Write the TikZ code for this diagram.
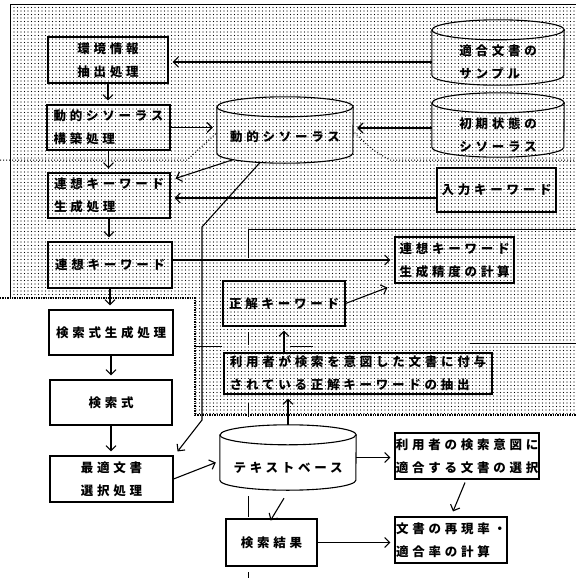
\documentclass[tikz,border=0pt]{standalone}
\usepackage{fontspec}
\newfontfamily\jpf[LetterSpace=30]{Noto Sans CJK JP}
\usetikzlibrary{arrows.meta,patterns.meta,calc}
\pgfdeclarelayer{bg}\pgfdeclarelayer{mid}\pgfsetlayers{bg,mid,main}
\tikzset{
  dotfill/.style={pattern={Dots[distance=3.5pt,radius=0.6pt]}},
  jp/.style={font=\jpf\bfseries\fontsize{12.5}{23}\selectfont},
  box/.style={jp, draw, line width=1.1pt, inner sep=0pt, align=left, fill=white},
  dotbox/.style={jp, draw, line width=1.1pt, inner sep=0pt, align=left, preaction={fill=white}, dotfill},
  cylnode/.style={inner sep=0pt},
  lab/.style={jp, align=left, inner sep=0pt, yshift=-10pt},
  arr/.style={line width=1.1pt, shorten >=4pt, -{Straight Barb[length=5pt,width=10pt,line width=1.1pt]}},
  sheet/.style={line width=0.9pt},
}
\newcommand\mycyl[3]{%
  \begin{pgfonlayer}{mid}
  \path[line width=1.1pt, draw, #3] ($(#1.north west)+(0,10)$) -- ($(#1.south west)+(0,-10)$)
     arc[start angle=180,end angle=360,x radius=#2pt,y radius=10pt]
     -- ($(#1.north east)+(0,10)$)
     arc[start angle=0,end angle=180,x radius=#2pt,y radius=10pt] -- cycle;
  \draw[line width=1.1pt] ($(#1.north west)+(0,10)$) arc[start angle=180,end angle=360,x radius=#2pt,y radius=10pt];
  \end{pgfonlayer}}
\begin{document}
\begin{tikzpicture}[x=1pt,y=-1pt]
\useasboundingbox (0,0) rectangle (576,578);
% background region and sheet lines
\begin{pgfonlayer}{bg}
\fill[white] (0,0) rectangle (576,578);
\fill[dotfill] (10,5) -- (576,5) -- (576,415) -- (195,415) -- (195,298) -- (10,298) -- cycle;
\draw[line width=1pt] (10,298) -- (10,5) -- (576,5);
\draw[densely dotted, line width=1.4pt] (0,298) -- (195,298) -- (195,415) -- (576,415);
\draw[dotted, line width=1pt] (0,160) -- (187,160) -- (222,128) -- (350,128) .. controls (372,150) .. (390,160) -- (576,160);
\draw[sheet] (248,258) -- (248,229) -- (576,229);
\draw[sheet] (248,332) -- (248,345);
\draw[sheet] (248,403) -- (248,417);
\draw[sheet] (248,496) -- (248,517);
\draw[sheet] (248,572) -- (248,578);
\draw[sheet] (195,346) -- (222,346);
\draw[sheet] (290,346) -- (313,346);
\draw[sheet] (470,343) -- (576,343);
\end{pgfonlayer}

% left column
\node[dotbox, minimum width=120pt, minimum height=46pt] (env) at (108,60) {環境情報\\抽出処理};
\node[dotbox, minimum width=123pt, minimum height=45pt] (dynproc) at (108.5,127.5) {動的シソーラス\\構築処理};
\node[dotbox, minimum width=122pt, minimum height=45pt] (assocgen) at (109,195.5) {連想キーワード\\生成処理};
\node[dotbox, minimum width=124pt, minimum height=46pt] (assockw) at (110,265) {連想キーワード};
\node[box, minimum width=124pt, minimum height=45pt] (qgen) at (111,332.5) {検索式生成処理};
\node[box, minimum width=122pt, minimum height=45pt] (query) at (111,402.5) {検索式};
\node[box, minimum width=123pt, minimum height=46pt] (optimal) at (111.5,479) {最適文書\\選択処理};

% cylinders
\node[cylnode, minimum width=132pt, minimum height=65pt, label={[lab]center:適合文書の\\サンプル}] (sample) at (498,52.5) {};
\mycyl{sample}{66}{preaction={fill=white}, dotfill}
\node[cylnode, minimum width=132pt, minimum height=64pt, label={[lab]center:初期状態の\\シソーラス}] (init) at (498,125) {};
\mycyl{init}{66}{preaction={fill=white}, dotfill}
\node[cylnode, minimum width=136pt, minimum height=66pt, label={[lab, yshift=3pt]center:動的シソーラス}] (dyn) at (285,130) {};
\mycyl{dyn}{68}{preaction={fill=white}, dotfill}
\node[cylnode, minimum width=136pt, minimum height=65pt, label={[lab]center:テキストベース}] (textbase) at (288,457.5) {};
\mycyl{textbase}{68}{fill=white}

% right boxes
\node[dotbox, minimum width=119pt, minimum height=44pt] (input) at (496.5,190) {入力キーワード};
\node[dotbox, minimum width=119pt, minimum height=46pt] (accuracy) at (454.5,260) {連想キーワード\\生成精度の計算};
\node[dotbox, minimum width=122pt, minimum height=45pt] (seikai) at (284,303.5) {正解キーワード};
\node[dotbox, minimum width=268pt, minimum height=41pt] (extract) at (358,373.5) {利用者が検索を意図した文書に付与\\されている正解キーワードの抽出};
\node[box, minimum width=144pt, minimum height=46pt] (select) at (467,456) {利用者の検索意図に\\適合する文書の選択};
\node[box, minimum width=112pt, minimum height=46pt] (recall) at (451,540) {文書の再現率・\\適合率の計算};
\node[box, minimum width=91pt, minimum height=47pt] (kekka) at (271.5,542.5) {検索結果};

% connectors
\draw[arr] ($(sample.west)+(0,9.5)$) coordinate (a1) -- (a1 -| env.east);
\draw[arr] (env.south) -- (env.south |- dynproc.north);
\draw[arr] (dynproc.east) -- (dynproc.east -| dyn.west);
\draw[arr] ($(init.west)+(0,3)$) coordinate (a4) -- (a4 -| dyn.east);
\draw[arr] (dynproc.south) -- (dynproc.south |- assocgen.north);
\draw[arr, shorten >=0pt] ($(dyn.south)+(-52,-3.5)$) -- ($(assocgen.north east)+(5,6)$);
\draw[arr] ($(input.west)+(0,8)$) coordinate (a7) -- (a7 -| assocgen.east);
\draw[arr] (assocgen.south) -- (assocgen.south |- assockw.north);
\draw[arr] (accuracy.west -| assockw.east) -- (accuracy.west);
\draw[arr, shorten >=0pt] (seikai.east) -- ($(accuracy.south west)+(-7,4)$);
\draw[arr] (seikai.south |- extract.north) -- (seikai.south);
\draw[arr] (textbase.north) -- (textbase.north |- extract.south);
\draw[arr] (assockw.south) -- (assockw.south |- qgen.north);
\draw[arr] (qgen.south) -- (qgen.south |- query.north);
\draw[arr] (query.south) -- (query.south |- optimal.north);
\draw[arr, shorten >=0pt] ($(dyn.south)+(-25,-0.7)$) -- (202,227) -- (202,420) -- ($(optimal.north east)+(4,-4)$);
\draw[arr, shorten >=0pt] (optimal.east) -- ($(textbase.west)+(-4,5)$);
\draw[arr] (textbase.east) -- (textbase.east -| select.west);
\draw[arr, shorten >=0pt] ($(textbase.south)+(-4,8)$) -- ($(kekka.north)+(-1,2)$);
\draw[arr, shorten >=0pt] ($(select.south)+(-2,3)$) -- ($(recall.north)+(2,-5)$);
\draw[arr] (kekka.east) -- (kekka.east -| recall.west);
\end{tikzpicture}
\end{document}
